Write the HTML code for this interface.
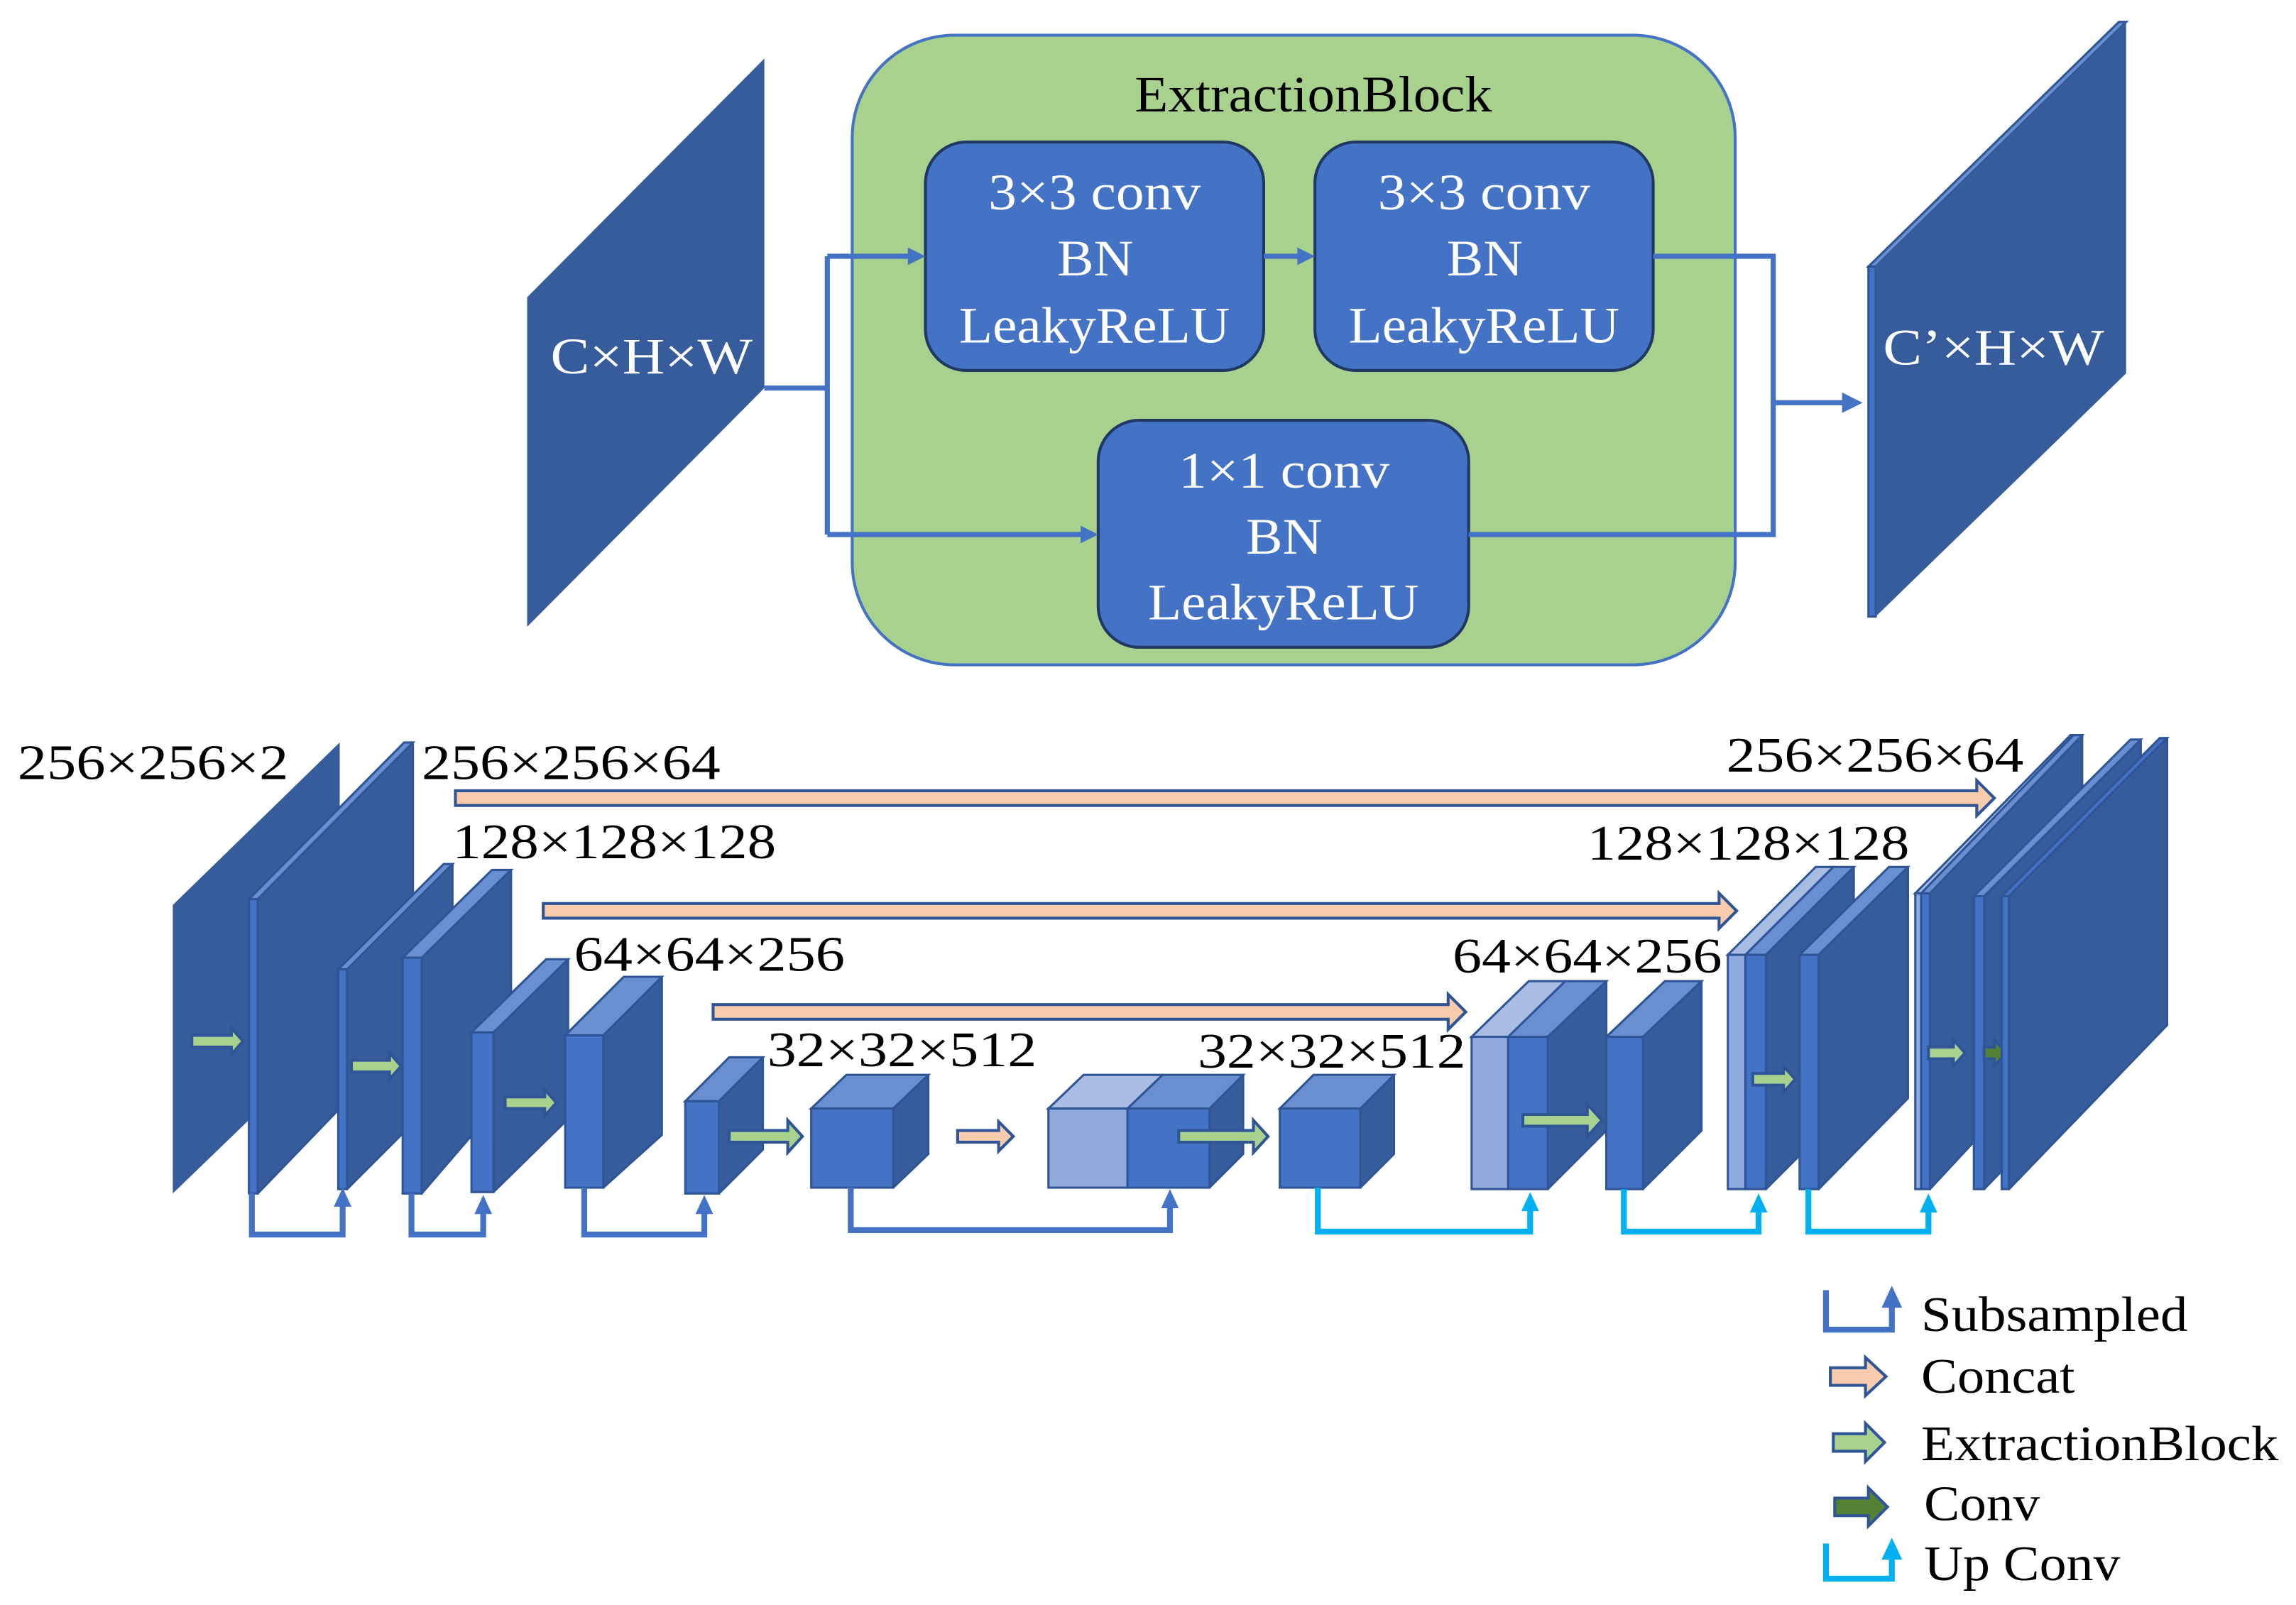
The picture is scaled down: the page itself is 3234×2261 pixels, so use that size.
<!DOCTYPE html>
<html><head><meta charset="utf-8"><style>
html,body{margin:0;padding:0;background:#fff;}
svg{display:block;}
text{font-family:"Liberation Serif",serif;}
</style></head><body>
<svg width="3234" height="2261" viewBox="0 0 1568 1096" preserveAspectRatio="none" xmlns="http://www.w3.org/2000/svg">
<defs>
<style>
.d{fill:#365C9C;stroke:#2F5597;stroke-width:1.5;stroke-linejoin:round}
.m{fill:#4472C4;stroke:#2F5597;stroke-width:1.5}
.l{fill:#6A8FD0;stroke:#2F5597;stroke-width:1.5}
.ll{fill:#8FAADC;stroke:#2F5597;stroke-width:1.5}
.lt{fill:#A9BCE3;stroke:#2F5597;stroke-width:1.5}
.ga{fill:#A9D18E;stroke:#2F5597;stroke-width:2}
.pa{fill:#F8CBAD;stroke:#2F5597;stroke-width:2}
.dg{fill:#548235;stroke:#2F5597;stroke-width:2}
.sb{fill:none;stroke:#4472C4;stroke-width:4}
.uc{fill:none;stroke:#00B0F0;stroke-width:4}
.lbl{font-size:34px;fill:#000}
.wt{font-size:35px;fill:#fff}
.cn{fill:none;stroke:#4472C4;stroke-width:3.5}
</style>
</defs>

<!-- ===== TOP: ExtractionBlock ===== -->
<polygon points="360,203 522,40 522,265 360,428" fill="#365C9C"/>
<text class="wt" x="376" y="255" textLength="138" lengthAdjust="spacingAndGlyphs">C×H×W</text>

<rect x="582" y="24" width="603" height="430" rx="70" fill="#A9D18E" stroke="#4472C4" stroke-width="2"/>
<text x="775" y="76" font-size="35" fill="#000" textLength="244" lengthAdjust="spacingAndGlyphs">ExtractionBlock</text>

<rect x="632" y="97" width="231" height="156" rx="28" fill="#4472C4" stroke="#1F3864" stroke-width="2"/>
<text class="wt" x="675" y="143" textLength="145" lengthAdjust="spacingAndGlyphs">3×3 conv</text>
<text class="wt" x="722" y="188" textLength="52" lengthAdjust="spacingAndGlyphs">BN</text>
<text class="wt" x="655" y="234" textLength="185" lengthAdjust="spacingAndGlyphs">LeakyReLU</text>

<rect x="898" y="97" width="231" height="156" rx="28" fill="#4472C4" stroke="#1F3864" stroke-width="2"/>
<text class="wt" x="941" y="143" textLength="145" lengthAdjust="spacingAndGlyphs">3×3 conv</text>
<text class="wt" x="988" y="188" textLength="52" lengthAdjust="spacingAndGlyphs">BN</text>
<text class="wt" x="921" y="234" textLength="185" lengthAdjust="spacingAndGlyphs">LeakyReLU</text>

<rect x="750" y="287" width="253" height="155" rx="28" fill="#4472C4" stroke="#1F3864" stroke-width="2"/>
<text class="wt" x="805" y="333" textLength="144" lengthAdjust="spacingAndGlyphs">1×1 conv</text>
<text class="wt" x="851" y="378" textLength="52" lengthAdjust="spacingAndGlyphs">BN</text>
<text class="wt" x="784" y="423" textLength="185" lengthAdjust="spacingAndGlyphs">LeakyReLU</text>

<!-- connectors -->
<polyline class="cn" points="522,265 565,265"/>
<polyline class="cn" points="565,175 565,365"/>
<polyline class="cn" points="565,175 622,175"/>
<polygon points="632,175 620,169 620,181" fill="#4472C4"/>
<polyline class="cn" points="565,365 740,365"/>
<polygon points="750,365 738,359 738,371" fill="#4472C4"/>
<polyline class="cn" points="863,175 888,175"/>
<polygon points="898,175 886,169 886,181" fill="#4472C4"/>
<polyline class="cn" points="1129,175 1211,175 1211,365 1003,365"/>
<polyline class="cn" points="1211,275 1260,275"/>
<polygon points="1272,275 1258,268 1258,282" fill="#4472C4"/>

<polygon class="l" points="1276,182 1281,182 1452,15 1447,15"/>
<rect class="m" x="1276" y="182" width="5" height="239"/>
<polygon points="1281,182 1452,15 1452,255 1281,421" fill="#365C9C"/>
<text class="wt" x="1286" y="249" textLength="151" lengthAdjust="spacingAndGlyphs">C’×H×W</text>

<!-- ===== BOTTOM: network ===== -->
<polygon class="pa" points="311,540 1350,540 1350,533 1362,545 1350,557 1350,550 311,550"/>
<polygon class="pa" points="371,617 1174,617 1174,610 1186,622 1174,634 1174,627 371,627"/>
<polygon class="pa" points="487,686 989,686 989,679 1001,691 989,703 989,696 487,696"/>

<!-- labels -->
<text class="lbl" x="12" y="532" textLength="185" lengthAdjust="spacingAndGlyphs">256×256×2</text>
<text class="lbl" x="288" y="532" textLength="204" lengthAdjust="spacingAndGlyphs">256×256×64</text>
<text class="lbl" x="309" y="586" textLength="221" lengthAdjust="spacingAndGlyphs">128×128×128</text>
<text class="lbl" x="392" y="663" textLength="185" lengthAdjust="spacingAndGlyphs">64×64×256</text>
<text class="lbl" x="524" y="728" textLength="184" lengthAdjust="spacingAndGlyphs">32×32×512</text>
<text class="lbl" x="818" y="729" textLength="183" lengthAdjust="spacingAndGlyphs">32×32×512</text>
<text class="lbl" x="992" y="664" textLength="184" lengthAdjust="spacingAndGlyphs">64×64×256</text>
<text class="lbl" x="1084" y="587" textLength="220" lengthAdjust="spacingAndGlyphs">128×128×128</text>
<text class="lbl" x="1179" y="527" textLength="203" lengthAdjust="spacingAndGlyphs">256×256×64</text>

<!-- encoder -->
<polygon points="118,618 232,507 232,705 118,815" fill="#365C9C"/>
<polygon class="d" points="176,614 282,507 282,705 176,815"/>
<polygon class="l" points="170,614 176,614 282,507 276,507"/>
<rect class="m" x="170" y="614" width="6" height="201"/>
<polygon class="ga" points="131,707 158,707 158,702 166,711 158,720 158,715 131,715"/>

<polygon class="d" points="237,662 309,590 309,740 237,812"/>
<polygon class="l" points="231,662 237,662 309,590 303,590"/>
<rect class="m" x="231" y="662" width="6" height="150"/>
<polygon class="ga" points="240,724 266,724 266,719 274,728 266,737 266,732 240,732"/>

<polygon class="d" points="288,654 349,594 349,744 288,815"/>
<polygon class="l" points="275,654 288,654 349,594 336,594"/>
<rect class="m" x="275" y="654" width="13" height="161"/>

<polygon class="d" points="337,705 388,655 388,764 337,814"/>
<polygon class="l" points="322,705 337,705 388,655 373,655"/>
<rect class="m" x="322" y="705" width="15" height="109"/>
<polygon class="ga" points="345,749 372,749 372,744 380,753 372,762 372,757 345,757"/>

<polygon class="d" points="412,707 452,667 452,775 412,811"/>
<polygon class="l" points="386,707 412,707 452,667 426,667"/>
<rect class="m" x="386" y="707" width="26" height="104"/>

<polygon class="d" points="491,752 521,722 521,785 491,815"/>
<polygon class="l" points="468,752 491,752 521,722 498,722"/>
<rect class="m" x="468" y="752" width="23" height="63"/>
<polygon class="ga" points="498,772 538,772 538,765 548,776 538,787 538,780 498,780"/>

<polygon class="d" points="610,757 634,734 634,788 610,811"/>
<polygon class="l" points="554,757 610,757 634,734 578,734"/>
<rect class="m" x="554" y="757" width="56" height="54"/>

<!-- subsample connectors -->
<polyline class="sb" points="172,815 172,843 234,843 234,822"/>
<polygon points="234,811 228,824 240,824" fill="#4472C4"/>
<polyline class="sb" points="281,815 281,843 330,843 330,828"/>
<polygon points="330,816 324,829 336,829" fill="#4472C4"/>
<polyline class="sb" points="399,811 399,843 481,843 481,828"/>
<polygon points="481,816 475,829 487,829" fill="#4472C4"/>
<polyline class="sb" points="581,811 581,840 799,840 799,824"/>
<polygon points="799,812 793,825 805,825" fill="#4472C4"/>

<!-- bottleneck -->
<polygon class="pa" points="654,772 682,772 682,766 692,776 682,786 682,780 654,780"/>
<polygon class="lt" points="716,757 770,757 794,734 740,734"/>
<rect class="ll" x="716" y="757" width="54" height="54"/>
<polygon class="d" points="826,757 849,734 849,788 826,811"/>
<polygon class="l" points="770,757 826,757 849,734 794,734"/>
<rect class="m" x="770" y="757" width="56" height="54"/>
<polygon class="ga" points="805,772 856,772 856,765 866,776 856,787 856,780 805,780"/>

<polygon class="d" points="929,757 952,734 952,788 929,811"/>
<polygon class="l" points="874,757 929,757 952,734 897,734"/>
<rect class="m" x="874" y="757" width="55" height="54"/>

<polyline class="uc" points="900,811 900,841 1045,841 1045,826"/>
<polygon points="1045,814 1039,827 1051,827" fill="#00B0F0"/>

<!-- decoder 64 -->
<polygon class="lt" points="1005,708 1030,708 1069,670 1044,670"/>
<rect class="ll" x="1005" y="708" width="25" height="104"/>
<polygon class="d" points="1057,708 1097,670 1097,772 1057,812"/>
<polygon class="l" points="1030,708 1057,708 1097,670 1069,670"/>
<rect class="m" x="1030" y="708" width="27" height="104"/>
<polygon class="ga" points="1040,761 1084,761 1084,754 1094,765 1084,776 1084,769 1040,769"/>

<polygon class="d" points="1122,708 1162,670 1162,772 1122,812"/>
<polygon class="l" points="1097,708 1122,708 1162,670 1137,670"/>
<rect class="m" x="1097" y="708" width="25" height="104"/>

<polyline class="uc" points="1109,812 1109,841 1201,841 1201,827"/>
<polygon points="1201,815 1195,828 1207,828" fill="#00B0F0"/>

<!-- decoder 128 -->
<polygon class="lt" points="1180,652 1192,652 1252,592 1240,592"/>
<rect class="ll" x="1180" y="652" width="12" height="160"/>
<polygon class="d" points="1206,652 1266,592 1266,752 1206,812"/>
<polygon class="l" points="1192,652 1206,652 1266,592 1252,592"/>
<rect class="m" x="1192" y="652" width="14" height="160"/>
<polygon class="ga" points="1197,733 1218,733 1218,728 1226,737 1218,746 1218,741 1197,741"/>

<polygon class="d" points="1242,652 1303,592 1303,750 1242,812"/>
<polygon class="l" points="1229,652 1242,652 1303,592 1290,592"/>
<rect class="m" x="1229" y="652" width="13" height="160"/>

<polyline class="uc" points="1235,812 1235,841 1317,841 1317,827"/>
<polygon points="1317,815 1311,828 1323,828" fill="#00B0F0"/>

<!-- decoder 256 -->
<polygon class="lt" points="1308,610 1312,610 1418,502 1414,502"/>
<rect class="ll" x="1308" y="610" width="4" height="202"/>
<polygon class="d" points="1318,610 1422,502 1422,700 1318,812"/>
<polygon class="l" points="1312,610 1318,610 1422,502 1416,502"/>
<rect class="m" x="1312" y="610" width="6" height="202"/>
<polygon class="ga" points="1317,715 1334,715 1334,710 1342,719 1334,728 1334,723 1317,723"/>

<polygon class="d" points="1355,612 1462,505 1462,702 1355,812"/>
<polygon class="l" points="1348,612 1355,612 1462,505 1455,505"/>
<rect class="m" x="1348" y="612" width="7" height="200"/>
<polygon class="dg" points="1355,715 1362,715 1362,710 1370,719 1362,728 1362,723 1355,723"/>

<polygon class="d" points="1372,612 1480,504 1480,700 1372,812"/>
<polygon class="m" points="1367,612 1372,612 1480,504 1475,504"/>
<rect class="m" x="1367" y="612" width="5" height="200"/>

<!-- ===== Legend ===== -->
<polyline class="sb" points="1247,881 1247,908 1292,908 1292,892"/>
<polygon points="1292,878 1285,893 1299,893" fill="#4472C4"/>
<text class="lbl" x="1312" y="909" textLength="182" lengthAdjust="spacingAndGlyphs">Subsampled</text>

<polygon class="pa" points="1250,934 1274,934 1274,927 1288,940 1274,953 1274,946 1250,946"/>
<text class="lbl" x="1312" y="951" textLength="105" lengthAdjust="spacingAndGlyphs">Concat</text>

<polygon class="ga" points="1252,979 1274,979 1274,972 1287,985 1274,998 1274,991 1252,991"/>
<text class="lbl" x="1312" y="997" textLength="244" lengthAdjust="spacingAndGlyphs">ExtractionBlock</text>

<polygon class="dg" points="1253,1023 1276,1023 1276,1016 1289,1029 1276,1042 1276,1035 1253,1035"/>
<text class="lbl" x="1314" y="1038" textLength="79" lengthAdjust="spacingAndGlyphs">Conv</text>

<polyline class="uc" points="1247,1054 1247,1078 1292,1078 1292,1064"/>
<polygon points="1292,1050 1285,1065 1299,1065" fill="#00B0F0"/>
<text class="lbl" x="1314" y="1079" textLength="134" lengthAdjust="spacingAndGlyphs">Up Conv</text>
</svg>
</body></html>
